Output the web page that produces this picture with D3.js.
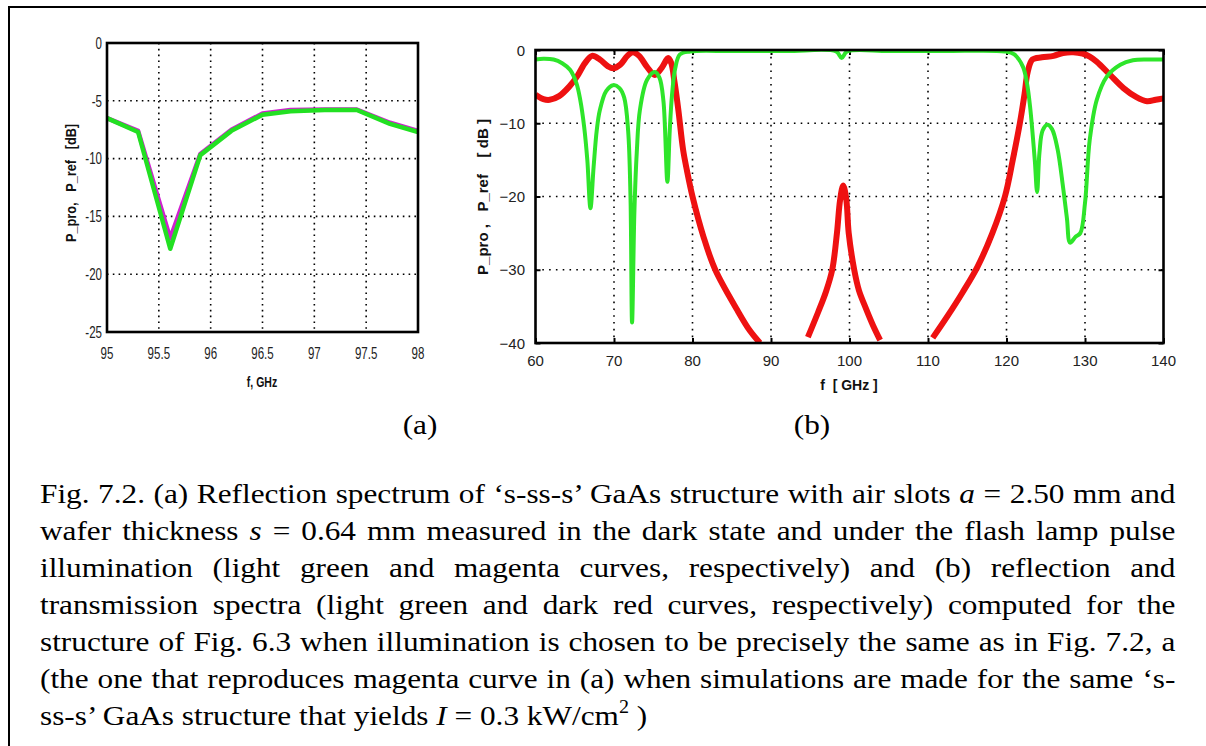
<!DOCTYPE html>
<html><head><meta charset="utf-8">
<script src="https://cdn.jsdelivr.net/npm/d3@7"></script>
<style>
html,body{margin:0;padding:0;background:#fff;}
svg{display:block;}
text{white-space:pre;}
.serif{font-family:'Liberation Serif','Times New Roman',Times,serif;}
.sans{font-family:'Liberation Sans',Arial,Helvetica,sans-serif;}
</style></head>
<body>
<svg id="chart" width="1206" height="746"></svg>
<script>
// ---------- DATA ----------
// Panel (a): measured reflection spectrum
const freqA  = [95.0, 95.3, 95.61, 95.9, 96.2, 96.5, 96.77, 97.1, 97.41, 97.73, 98.0];
const darkA  = [-6.5, -7.7, -17.8, -9.7, -7.6, -6.2, -5.9, -5.8, -5.8, -7.0, -7.7];   // light green
const illumA = [-6.5, -7.6, -16.9, -9.6, -7.5, -6.1, -5.8, -5.75, -5.75, -6.9, -7.6]; // magenta
const xTicksA = [95, 95.5, 96, 96.5, 97, 97.5, 98];
const yTicksA = [0, -5, -10, -15, -20, -25];

// Panel (b): computed reflection (green) and transmission (red)
const reflFreq = [60, 61, 62.3, 63.4, 64.4, 65.2, 65.7, 66.2, 66.6, 67.0, 67.4, 67.8, 68.2, 69.0, 69.9, 70.7, 71.3, 71.8, 72.1, 72.3, 72.6, 72.9, 73.3, 74.2, 75.2, 75.8, 76.3, 76.8, 77.1, 77.4, 77.8, 78.4, 79.7, 85, 92, 98.3, 99.0, 99.7, 105, 112, 119.8, 121.0, 122.1, 122.6, 123.0, 123.6, 123.9, 124.2, 124.6, 125.2, 125.8, 126.5, 127.2, 127.7, 128.1, 128.8, 129.4, 130.0, 130.6, 131.5, 132.8, 134.5, 136.1, 138, 140];
const reflDb   = [-1.3, -1.2, -1.3, -1.8, -2.7, -4.5, -6.8, -10.5, -15, -21.6, -16, -11, -8.2, -5.6, -4.8, -5.2, -6.5, -11, -20, -37.2, -22, -14, -8.2, -4.1, -3.0, -3.8, -7, -18, -11, -6, -2.5, -0.6, -0.2, -0.15, -0.15, -0.2, -1.1, -0.2, -0.15, -0.15, -0.2, -0.6, -2.3, -4.5, -7.7, -15, -19.4, -14, -11, -10.2, -10.8, -13.5, -18.7, -23, -26.3, -25.5, -25, -20.9, -12.3, -6.8, -3.6, -2.0, -1.4, -1.3, -1.3];

const transFreq = [60, 61, 61.8, 63, 64.3, 65.3, 66.3, 67.2, 68.2, 69.2, 69.9, 70.8, 71.7, 72.4, 73.2, 74.2, 75.2, 76.1, 76.9, 77.3, 77.7, 78.2, 78.8, 79.3, 80.0, 81.4, 82.9, 85.7, 87.3, 88.6,
                   91,
                   94.7, 96.0, 97.0, 97.8, 98.4, 98.8, 99.2, 99.6, 99.9, 100.6, 101.2, 102.1, 103.0, 103.9,
                   107,
                   110.6, 112.5, 114.4, 116.3, 118.2, 119.8, 120.8, 121.7, 122.3, 122.7, 123.3, 124.5, 126.0, 127.2, 128.5, 129.7, 130.6, 131.5, 133.2, 134.9, 136.5, 137.9, 139, 140];
const transDb   = [-6.1, -6.7, -6.8, -6.3, -5.0, -3.6, -1.8, -0.8, -1.3, -2.2, -2.5, -2.0, -0.8, -0.3, -0.8, -2.3, -3.4, -2.4, -1.1, -1.8, -4.3, -8.2, -13.6, -16.5, -20, -25.5, -30, -35.5, -38.3, -40,
                   null,
                   -39.2, -35.8, -33, -30, -25, -20.5, -18.5, -20.5, -25, -30, -32.8, -35.3, -37.6, -39.6,
                   null,
                   -39.3, -36.3, -33.1, -29.6, -25, -20, -15, -10, -6, -3, -1.3, -1.0, -0.8, -0.4, -0.3, -0.5, -0.9, -1.6, -3.4, -5.2, -6.4, -7.0, -6.8, -6.6];
const xTicksB = [60, 70, 80, 90, 100, 110, 120, 130, 140];
const yTicksB = [0, -10, -20, -30, -40];

// ---------- DRAW ----------
const svg = d3.select("#chart");
svg.append("rect").attr("width",1206).attr("height",746).attr("fill","#fff");
svg.append("rect").attr("x",9).attr("y",7).attr("width",1210).attr("height",760)
  .attr("fill","none").attr("stroke","#000").attr("stroke-width",2);

const fmt = d => d3.format("")(d).replace("−","-");

// ===== Panel (a) =====
const xa = d3.scaleLinear().domain([95,98]).range([107,418]);
const ya = d3.scaleLinear().domain([-25,0]).range([332,43]);
const ga = svg.append("g");
ga.selectAll("line.vg").data(xTicksA.slice(1,-1)).join("line")
  .attr("x1",d=>xa(d)).attr("x2",d=>xa(d)).attr("y1",ya(0)).attr("y2",ya(-25))
  .attr("stroke","#000").attr("stroke-width",1.6).attr("stroke-dasharray","1.6,4.2");
ga.selectAll("line.hg").data(yTicksA.slice(1,-1)).join("line")
  .attr("y1",d=>ya(d)).attr("y2",d=>ya(d)).attr("x1",xa(95)).attr("x2",xa(98))
  .attr("stroke","#000").attr("stroke-width",1.6).attr("stroke-dasharray","1.6,4.2");
const lineA = (vals) => d3.line().x((d,i)=>xa(freqA[i])).y((d,i)=>ya(vals[i]))(vals);
ga.append("path").attr("d",lineA(illumA)).attr("fill","none").attr("stroke","#d020d0").attr("stroke-width",4.5).attr("stroke-linejoin","round");
ga.append("path").attr("d",lineA(darkA)).attr("fill","none").attr("stroke","#22e022").attr("stroke-width",4.5).attr("stroke-linejoin","round");
ga.append("rect").attr("x",xa(95)).attr("y",ya(0)).attr("width",xa(98)-xa(95)).attr("height",ya(-25)-ya(0))
  .attr("fill","none").attr("stroke","#000").attr("stroke-width",2.6);
ga.selectAll("text.xl").data(xTicksA).join("text").attr("class","sans")
  .attr("transform",d=>`translate(${xa(d)},353) scale(0.68,1)`)
  .attr("text-anchor","middle").attr("dominant-baseline","central")
  .attr("font-size",17).attr("fill","#222").text(d=>fmt(d));
ga.selectAll("text.yl").data(yTicksA).join("text").attr("class","sans")
  .attr("transform",d=>`translate(102,${ya(d)}) scale(0.68,1)`)
  .attr("text-anchor","end").attr("dominant-baseline","central")
  .attr("font-size",17).attr("fill","#222").text(d=>fmt(d));
ga.append("text").attr("class","sans").attr("transform","translate(71,183) rotate(-90) scale(0.85,1)")
  .attr("text-anchor","middle").attr("dominant-baseline","central")
  .attr("font-size",15).attr("font-weight","bold").attr("fill","#111")
  .text("P_pro,   P_ref   [dB]");
ga.append("text").attr("class","sans").attr("transform","translate(262,382) scale(0.75,1)")
  .attr("text-anchor","middle").attr("dominant-baseline","central")
  .attr("font-size",14).attr("font-weight","bold").attr("fill","#111")
  .text("f, GHz");

// ===== Panel (b) =====
const xb = d3.scaleLinear().domain([60,140]).range([535.5,1163.5]);
const yb = d3.scaleLinear().domain([-40,0]).range([343,50]);
const gb = svg.append("g");
gb.selectAll("line.vg").data(xTicksB.slice(1,-1)).join("line")
  .attr("x1",d=>xb(d)).attr("x2",d=>xb(d)).attr("y1",yb(0)).attr("y2",yb(-40))
  .attr("stroke","#000").attr("stroke-width",1.6).attr("stroke-dasharray","1.6,5.2");
gb.selectAll("line.hg").data(yTicksB.slice(1,-1)).join("line")
  .attr("y1",d=>yb(d)).attr("y2",d=>yb(d)).attr("x1",xb(60)).attr("x2",xb(140))
  .attr("stroke","#000").attr("stroke-width",1.6).attr("stroke-dasharray","1.6,5.2");
const axB = gb.append("g");
axB.append("g").attr("transform",`translate(0,${yb(-40)})`).call(d3.axisTop(xb).tickValues(xTicksB).tickSize(5).tickFormat(""));
axB.append("g").attr("transform",`translate(0,${yb(0)})`).call(d3.axisBottom(xb).tickValues(xTicksB).tickSize(5).tickFormat(""));
axB.append("g").attr("transform",`translate(${xb(60)},0)`).call(d3.axisRight(yb).tickValues(yTicksB).tickSize(5).tickFormat(""));
axB.append("g").attr("transform",`translate(${xb(140)},0)`).call(d3.axisLeft(yb).tickValues(yTicksB).tickSize(5).tickFormat(""));
axB.selectAll(".domain").remove();
axB.selectAll(".tick line").attr("stroke","#000").attr("stroke-width",2);

svg.append("clipPath").attr("id","clipB").append("rect")
  .attr("x",xb(60)).attr("y",yb(0)).attr("width",xb(140)-xb(60)).attr("height",yb(-40)-yb(0));
const curveB = d3.curveCatmullRom.alpha(0.5);
const redLine = d3.line().defined(d=>d[1]!==null).x(d=>xb(d[0])).y(d=>yb(d[1])).curve(curveB);
const greenLine = d3.line().x(d=>xb(d[0])).y(d=>yb(d[1])).curve(curveB);
gb.append("path").attr("clip-path","url(#clipB)")
  .attr("d",redLine(transFreq.map((f,i)=>[f,transDb[i]])))
  .attr("fill","none").attr("stroke","#ee1111").attr("stroke-width",6).attr("stroke-linejoin","round").attr("stroke-linecap","butt");
gb.append("path").attr("clip-path","url(#clipB)")
  .attr("d",greenLine(reflFreq.map((f,i)=>[f,reflDb[i]])))
  .attr("fill","none").attr("stroke","#2ee52a").attr("stroke-width",4).attr("stroke-linejoin","round");
gb.append("rect").attr("x",xb(60)).attr("y",yb(0)).attr("width",xb(140)-xb(60)).attr("height",yb(-40)-yb(0))
  .attr("fill","none").attr("stroke","#000").attr("stroke-width",2.6);
gb.selectAll("text.xl").data(xTicksB).join("text").attr("class","sans")
  .attr("x",d=>xb(d)).attr("y",360).attr("text-anchor","middle").attr("dominant-baseline","central")
  .attr("font-size",15).attr("fill","#222")
  .text(d=>fmt(d));
gb.selectAll("text.yl").data(yTicksB).join("text").attr("class","sans")
  .attr("x",525).attr("y",d=>yb(d)).attr("text-anchor","end").attr("dominant-baseline","central")
  .attr("font-size",15).attr("fill","#222")
  .text(d=>d3.format("")(d));
gb.append("text").attr("class","sans").attr("transform","translate(482,197) rotate(-90)")
  .attr("text-anchor","middle").attr("dominant-baseline","central")
  .attr("font-size",15).attr("font-weight","bold").attr("fill","#111")
  .text("P_pro ,   P_ref    [ dB ]");
gb.append("text").attr("class","sans").attr("x",849).attr("y",385).attr("text-anchor","middle").attr("dominant-baseline","central")
  .attr("font-size",14).attr("font-weight","bold").attr("fill","#111")
  .text("f  [ GHz ]");

// ===== Sub-labels and caption =====
const captionLines = [
  [["Fig. 7.2. (a) Reflection spectrum of ‘s-ss-s’ GaAs structure with air slots ",""],["a","i"],[" = 2.50 mm and",""]],
  [["wafer thickness ",""],["s","i"],[" = 0.64 mm measured in the dark state and under the flash lamp pulse",""]],
  [["illumination (light green and magenta curves, respectively) and (b) reflection and",""]],
  [["transmission spectra (light green and dark red curves, respectively) computed for the",""]],
  [["structure of Fig. 6.3 when illumination is chosen to be precisely the same as in Fig. 7.2, a",""]],
  [["(the one that reproduces magenta curve in (a) when simulations are made for the same ‘s-",""]],
  [["ss-s’ GaAs structure that yields ",""],["I","i"],[" = 0.3 kW/cm",""],["2","sup"],[" )","back"]]
];
const capX0 = 40, capX1 = 1176, capY0 = 503, capDy = 37, capFs = 28;
const texts = captionLines.map((parts, li) => {
  const t = svg.append("text").attr("class","serif").attr("font-size",capFs).attr("fill","#000");
  parts.forEach(([s,k]) => {
    const ts = t.append("tspan").text(s);
    if (k==="i") ts.attr("font-style","italic");
    if (k==="sup") ts.attr("font-size",18).attr("dy",-12);
    if (k==="back") ts.attr("dy",12);
  });
  return t;
});
const widths = texts.map(t=>t.node().getComputedTextLength());
const sx = Math.min(1.15, 1124 / d3.max(widths.slice(0,-1)));
texts.forEach((t, li) => {
  t.attr("transform",`translate(${capX0},${capY0 + li*capDy}) scale(${sx},1)`);
  if (li < texts.length-1) {
    const full = captionLines[li].map(p=>p[0]).join("");
    const gaps = (full.match(/ /g)||[]).length;
    t.style("word-spacing", (((capX1-capX0)/sx - widths[li])/gaps)+"px");
  }
});
svg.append("text").attr("class","serif").attr("transform",`translate(420,425) scale(${sx},1)`).attr("text-anchor","middle").attr("dominant-baseline","central")
  .attr("font-size",28).text("(a)");
svg.append("text").attr("class","serif").attr("transform",`translate(812,425) scale(${sx},1)`).attr("text-anchor","middle").attr("dominant-baseline","central")
  .attr("font-size",28).text("(b)");
</script>
</body></html>
